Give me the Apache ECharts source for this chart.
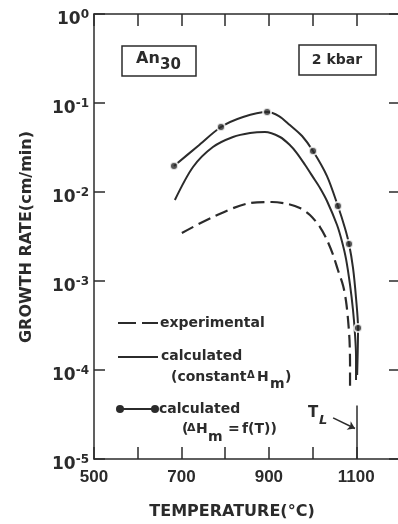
<!DOCTYPE html>
<html>
<head>
<meta charset="utf-8">
<script src="https://cdn.jsdelivr.net/npm/echarts@6/dist/echarts.min.js"></script>
<style>
  html, body { margin: 0; padding: 0; background: #fff; }
  #chart { width: 398px; height: 524px; }
</style>
</head>
<body>
<div id="chart"></div>
<script>
// --- data (temperature in degC, growth rate in cm/min) ---
const xTickLabels = [500, 700, 900, 1100];

const experimental = [
  [701, 0.00346], [772, 0.00524], [857, 0.00752], [907, 0.00772], [944, 0.00733],
  [971, 0.00661], [994, 0.00552], [1017, 0.00404], [1033, 0.00289], [1047, 0.00196],
  [1058, 0.00133], [1070, 0.000879], [1076.5, 0.000596], [1081, 0.000374],
  [1084.5, 0.000217], [1085.7, 0.000120], [1085.7, 0.0000596]
];

const calcConstant = [
  [685, 0.00813], [726.5, 0.0191], [772, 0.0320], [818, 0.0415], [857, 0.0460],
  [891, 0.0472], [925.5, 0.0415], [948, 0.0337], [964, 0.0274], [983, 0.0201],
  [1001, 0.0147], [1017, 0.0111], [1033, 0.00792], [1056, 0.00426], [1067, 0.00281],
  [1076.5, 0.00177], [1085.7, 0.000902], [1092.5, 0.000472], [1097, 0.000254],
  [1099.4, 0.000144], [1099.4, 0.0000773]
];

// calculated with dH_m = f(T): the curve, and the computed points on it
const calcFTCurve = [
  [683, 0.0196], [738, 0.0329], [790.5, 0.0537], [841, 0.0696], [896, 0.0792],
  [923, 0.0714], [948, 0.0566], [976, 0.0426], [1001, 0.0289], [1033, 0.0151],
  [1058, 0.00696], [1074, 0.00394], [1083.4, 0.00260], [1092.5, 0.00140],
  [1099.4, 0.000644], [1104, 0.000296], [1102, 0.000088]
];
const calcFTPoints = [
  [683, 0.0196], [790.5, 0.0537], [896, 0.0792], [1001, 0.0289],
  [1058, 0.00696], [1083.4, 0.00260], [1104, 0.000296]
];

const liquidusT = 1100;

// --- styling ---
const SANS = '"Liberation Sans", Arial, sans-serif';
const WIDE = '"DejaVu Sans", sans-serif';
const INK = '#2b2b2b';

const chart = echarts.init(document.getElementById('chart'), null, { renderer: 'canvas' });

function xAxisBase(pos) {
  return {
    type: 'value', position: pos, min: 500, max: 1200, interval: 100,
    axisLine: { lineStyle: { color: INK, width: 1.5 } },
    axisTick: { inside: true, length: 12, lineStyle: { color: INK, width: 1.5 } },
    splitLine: { show: false },
    axisLabel: { show: false }
  };
}
function yAxisBase(pos) {
  return {
    type: 'log', logBase: 10, position: pos, min: 1e-5, max: 1,
    axisLine: { lineStyle: { color: INK, width: 1.5 } },
    axisTick: { inside: true, length: 11, lineStyle: { color: INK, width: 1.5 } },
    splitLine: { show: false },
    minorTick: { show: false },
    axisLabel: { show: false }
  };
}

const xBottom = xAxisBase('bottom');
xBottom.axisLabel = {
  show: true, margin: 10, color: INK, fontFamily: SANS, fontSize: 17, fontWeight: 'bold',
  formatter: v => xTickLabels.includes(v) ? String(v) : ''
};
const yLeft = yAxisBase('left');
yLeft.axisLabel = {
  show: true, margin: 5, padding: [12, 0, 0, 0],
  formatter: v => {
    const e = Math.round(Math.log10(v));
    return '{b|10}{s|' + (e < 0 ? '-' + (-e) : e) + '}';
  },
  rich: {
    b: { color: INK, fontFamily: WIDE, fontSize: 17, fontWeight: 'bold' },
    s: { color: INK, fontFamily: WIDE, fontSize: 12, fontWeight: 'bold', padding: [0, 0, 10, 0] }
  }
};

const txt = (x, y, text, extra) => ({
  type: 'text', x, y, silent: true,
  style: Object.assign({ text, fill: INK, font: 'bold 14px ' + WIDE, textVerticalAlign: 'middle' }, extra || {})
});

const option = {
  animation: false,
  backgroundColor: '#fff',
  grid: { left: 94, top: 14, width: 306, height: 445, outerBoundsMode: 'none', containLabel: false },
  xAxis: [xBottom, xAxisBase('top')],
  yAxis: [yLeft, yAxisBase('right')],
  series: [
    {
      name: 'experimental', type: 'line', data: experimental, smooth: 0.3,
      showSymbol: false, lineStyle: { color: INK, width: 2.2, type: [13, 6] }
    },
    {
      name: 'calculated (constant)', type: 'line', data: calcConstant, smooth: 0.3,
      showSymbol: false, lineStyle: { color: INK, width: 2 }
    },
    {
      name: 'calculated f(T)', type: 'line', data: calcFTCurve, smooth: 0.3,
      showSymbol: false, lineStyle: { color: INK, width: 2 },
      markLine: {
        silent: true, symbol: ['none', 'none'], label: { show: false },
        lineStyle: { color: INK, width: 1.5, type: 'solid' },
        data: [
          [{ coord: [liquidusT, 4e-5] }, { coord: [liquidusT, 1e-5] }],
          [{ coord: [1047, 2.9e-5] }, { coord: [1097, 2.2e-5], symbol: 'arrow', symbolSize: 7 }]
        ]
      }
    },
    {
      name: 'calculated f(T) points', type: 'scatter', data: calcFTPoints,
      symbol: 'circle', symbolSize: 8, z: 5,
      itemStyle: { color: INK, borderColor: '#fff', borderWidth: 2 }
    }
  ],
  graphic: [
    // sample boxes
    { type: 'rect', shape: { x: 122, y: 46, width: 74, height: 30 }, style: { fill: '#fff', stroke: INK, lineWidth: 1.5 } },
    txt(136, 59, 'An', { font: 'bold 16px ' + WIDE }),
    txt(160, 65, '30', { font: 'bold 15px ' + WIDE }),
    { type: 'rect', shape: { x: 299, y: 45, width: 77, height: 30 }, style: { fill: '#fff', stroke: INK, lineWidth: 1.5 } },
    txt(337, 60, '2 kbar', { textAlign: 'center' }),

    // legend
    { type: 'line', shape: { x1: 118, y1: 323, x2: 136, y2: 323 }, style: { stroke: INK, lineWidth: 2 } },
    { type: 'line', shape: { x1: 142, y1: 323, x2: 158, y2: 323 }, style: { stroke: INK, lineWidth: 2 } },
    txt(160, 323, 'experimental'),
    { type: 'line', shape: { x1: 118, y1: 357, x2: 158, y2: 357 }, style: { stroke: INK, lineWidth: 2 } },
    txt(161, 356, 'calculated'),
    txt(171, 377, '(constant'),
    txt(247, 375, '\u0394', { font: 'bold 10px ' + WIDE }),
    txt(257, 377, 'H'),
    txt(270, 384, 'm'),
    txt(285, 377, ')'),
    { type: 'line', shape: { x1: 120, y1: 409, x2: 155, y2: 409 }, style: { stroke: INK, lineWidth: 2 } },
    { type: 'circle', shape: { cx: 120, cy: 409, r: 4 }, style: { fill: INK } },
    { type: 'circle', shape: { cx: 155, cy: 409, r: 4 }, style: { fill: INK } },
    txt(159, 409, 'calculated'),
    txt(182, 429, '('),
    txt(187, 428, '\u0394', { font: 'bold 11px ' + WIDE }),
    txt(196, 429, 'H'),
    txt(208, 437, 'm'),
    txt(228, 429, '='),
    txt(242, 429, 'f(T))'),

    // liquidus label
    txt(308, 413, 'T', { font: 'bold 15px ' + WIDE }),
    txt(319, 421, 'L', { font: 'italic bold 13px ' + WIDE }),

    // axis titles
    txt(232, 512, 'TEMPERATURE(\u00B0C)', { font: 'bold 16px ' + WIDE, textAlign: 'center' }),
    {
      type: 'text', x: 27, y: 237, rotation: Math.PI / 2, silent: true,
      style: { text: 'GROWTH RATE(cm/min)', fill: INK, font: 'bold 16px ' + WIDE, textAlign: 'center', textVerticalAlign: 'middle' }
    }
  ]
};

chart.setOption(option);
</script>
</body>
</html>
